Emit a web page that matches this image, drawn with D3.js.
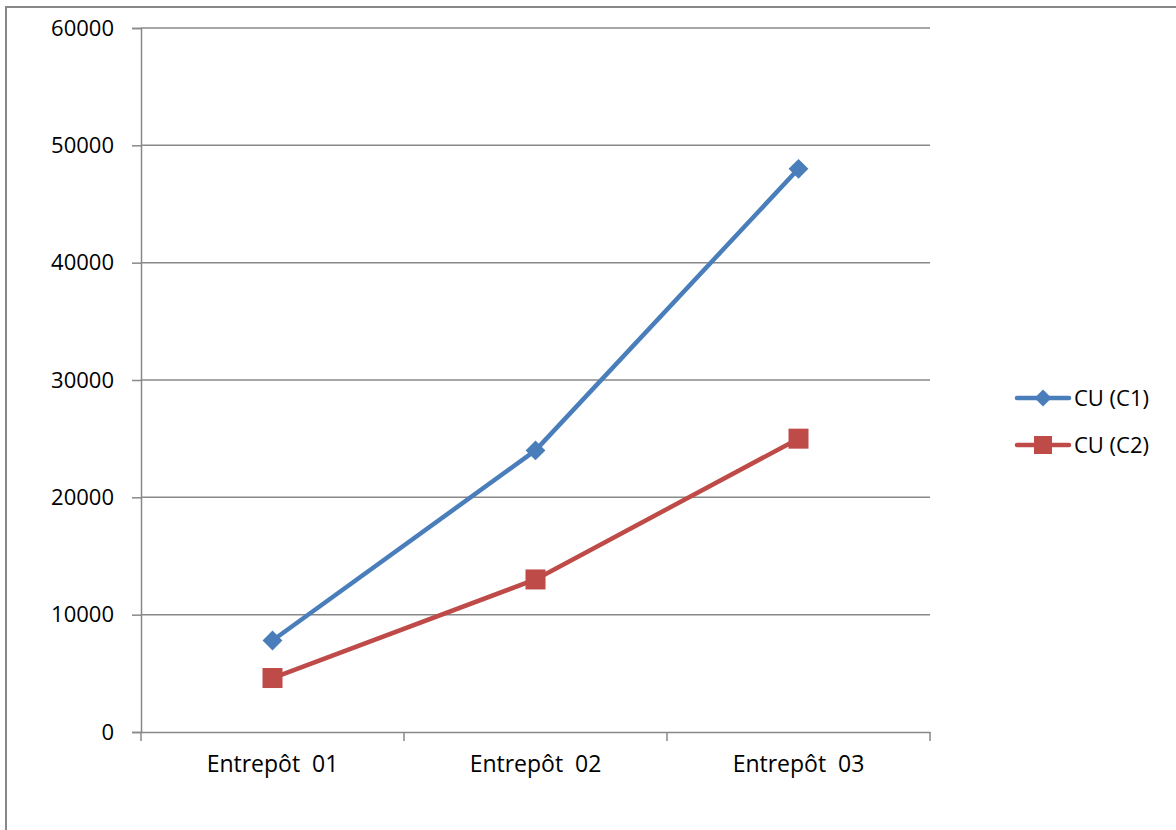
<!DOCTYPE html>
<html><head><meta charset="utf-8">
<script src="https://cdn.jsdelivr.net/npm/d3@7"></script>
<style>body{margin:0;background:#fff;} svg{display:block;}</style>
</head><body>
<svg id="c" width="1176" height="830"></svg>
<script>
const categories = ["Entrepôt  01", "Entrepôt  02", "Entrepôt  03"];
const seriesNames = ["CU (C1)", "CU (C2)"];
const c1Values = [7800, 24000, 48000];
const c2Values = [4600, 13000, 25000];
const yTicks = [0, 10000, 20000, 30000, 40000, 50000, 60000];

const colors = ["#4A7EBB", "#BE4B48"];
const font = "'Open Sans', 'DejaVu Sans', sans-serif";
const fs = 22;
const svg = d3.select("#c");
const m = {l:141, r:930, t:28, b:732};

svg.append("rect").attr("x",6).attr("y",7).attr("width",1200).attr("height",900)
  .attr("fill","none").attr("stroke","#888").attr("stroke-width",2);

const x = d3.scaleBand().domain(categories).range([m.l, m.r]).padding(0);
const y = d3.scaleLinear().domain([0, 60000]).range([m.b, m.t]);

// gridlines
svg.append("g").selectAll("line").data(yTicks.filter(d=>d>0)).join("line")
  .attr("x1", m.l).attr("x2", m.r).attr("y1", d=>y(d)).attr("y2", d=>y(d))
  .attr("stroke","#888").attr("stroke-width",1.5);

// y axis
const ya = svg.append("g").attr("transform",`translate(${m.l},0)`)
  .call(d3.axisLeft(y).tickValues(yTicks).tickSize(9).tickPadding(18).tickFormat(d3.format("d")));
ya.select(".domain").attr("stroke","#888").attr("stroke-width",1.5);
ya.selectAll(".tick line").attr("stroke","#888").attr("stroke-width",1.5);
ya.selectAll("text").attr("font-family",font).attr("font-size",fs).attr("fill","#000");

// x axis
const xa = svg.append("g").attr("transform",`translate(0,${m.b})`)
  .call(d3.axisBottom(x).tickSize(0).tickPadding(24));
xa.select(".domain").attr("stroke","#888").attr("stroke-width",1.5);
xa.selectAll("text").attr("font-family",font).attr("font-size",23).attr("fill","#000").style("white-space","pre").attr("xml:space","preserve");
const xt = categories.map((c,i)=>x(c)).concat([m.r]);
xa.selectAll(".xt").data(xt).join("line").attr("class","xt")
  .attr("x1",d=>d).attr("x2",d=>d).attr("y1",0).attr("y2",9)
  .attr("stroke","#888").attr("stroke-width",1.5);

const cx = c => x(c) + x.bandwidth()/2;
const series = [c1Values, c2Values];
const line = d3.line().x((d,i)=>cx(categories[i])).y(d=>y(d));
series.forEach((vals,si)=>{
  svg.append("path").attr("d", line(vals)).attr("fill","none")
    .attr("stroke",colors[si]).attr("stroke-width",4.5).attr("stroke-linejoin","round");
  const g = svg.append("g");
  vals.forEach((v,i)=>{
    const px = cx(categories[i]), py = y(v);
    if (si===0) {
      g.append("rect").attr("x",px-7).attr("y",py-7).attr("width",14).attr("height",14)
        .attr("fill",colors[si]).attr("transform",`rotate(45,${px},${py})`);
    } else {
      g.append("rect").attr("x",px-10).attr("y",py-10).attr("width",20).attr("height",20)
        .attr("fill",colors[si]);
    }
  });
});

// legend
const lg = svg.append("g");
seriesNames.forEach((n,i)=>{
  const ly = 398 + i*47;
  lg.append("line").attr("x1",1017).attr("x2",1069).attr("y1",ly).attr("y2",ly)
    .attr("stroke",colors[i]).attr("stroke-width",4.5).attr("stroke-linecap","round");
  if (i===0) {
    lg.append("rect").attr("x",1043-6).attr("y",ly-6).attr("width",12).attr("height",12)
      .attr("fill",colors[i]).attr("transform",`rotate(45,1043,${ly})`);
  } else {
    lg.append("rect").attr("x",1043-9).attr("y",ly-9).attr("width",18).attr("height",18).attr("fill",colors[i]);
  }
  lg.append("text").attr("x",1074).attr("y",ly).attr("dy","0.35em").text(n)
    .attr("font-family",font).attr("font-size",fs).attr("fill","#000");
});
</script>
</body></html>
